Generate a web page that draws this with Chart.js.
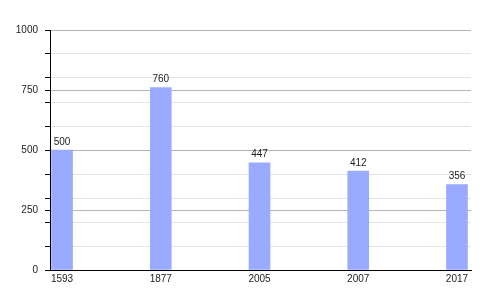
<!DOCTYPE html>
<html>
<head>
<meta charset="utf-8">
<script src="https://cdn.jsdelivr.net/npm/chart.js@4"></script>
<style>
  html, body { margin: 0; padding: 0; background: #fff; }
  #wrap { width: 500px; height: 300px; }
</style>
</head>
<body>
<div id="wrap"><canvas id="chart" width="500" height="300"></canvas></div>
<script>
const years = ['1593', '1877', '2005', '2007', '2017'];
const population = [500, 760, 447, 412, 356];
const yTicks = [0, 100, 200, 250, 300, 400, 500, 600, 700, 750, 800, 900, 1000];
const yLabelled = [0, 250, 500, 750, 1000];

const barColor = '#9aabff';
const textColor = '#222';
const fontFamily = '"Liberation Sans", Arial, sans-serif';

// values above each bar
const valueLabels = {
  id: 'valueLabels',
  afterDatasetsDraw(chart) {
    const ctx = chart.ctx;
    const meta = chart.getDatasetMeta(0);
    ctx.save();
    ctx.font = '10px ' + fontFamily;
    ctx.fillStyle = textColor;
    ctx.textAlign = 'center';
    ctx.textBaseline = 'bottom';
    meta.data.forEach((bar, i) => {
      ctx.fillText(String(population[i]), bar.x, bar.y - 3);
    });
    ctx.restore();
  }
};

new Chart(document.getElementById('chart'), {
  type: 'bar',
  data: {
    datasets: [{
      data: population.map((v, i) => ({ x: i, y: v })),
      backgroundColor: barColor,
      borderWidth: 0,
      barThickness: 21
    }]
  },
  plugins: [valueLabels],
  options: {
    responsive: false,
    animation: false,
    layout: { padding: { top: 30, right: 29, left: 0, bottom: 0 } },
    plugins: { legend: { display: false }, tooltip: { enabled: false } },
    scales: {
      x: {
        type: 'linear',
        offset: false,
        min: -0.122,
        max: 4.142,
        afterBuildTicks: s => { s.ticks = years.map((y, i) => ({ value: i })); },
        afterFit: s => { s.height = 30; },
        grid: { display: false, drawTicks: false, offset: false },
        border: { display: true, color: '#000', width: 1 },
        ticks: {
          autoSkip: false,
          maxRotation: 0,
          padding: 3,
          color: textColor,
          font: { family: fontFamily, size: 10 },
          callback: v => years[v]
        }
      },
      y: {
        min: 0,
        max: 1000,
        afterBuildTicks: s => { s.ticks = yTicks.map(v => ({ value: v })); },
        afterFit: s => { s.width = 50; },
        grid: {
          color: c => yLabelled.includes(c.tick.value) ? '#b4b4b4' : '#e4e4e4',
          tickColor: '#000',
          tickLength: 5,
          drawTicks: true
        },
        border: { display: true, color: '#000', width: 1 },
        ticks: {
          autoSkip: false,
          padding: 7,
          color: textColor,
          font: { family: fontFamily, size: 10 },
          callback: v => yLabelled.includes(v) ? String(v) : ''
        }
      }
    }
  }
});
</script>
</body>
</html>
